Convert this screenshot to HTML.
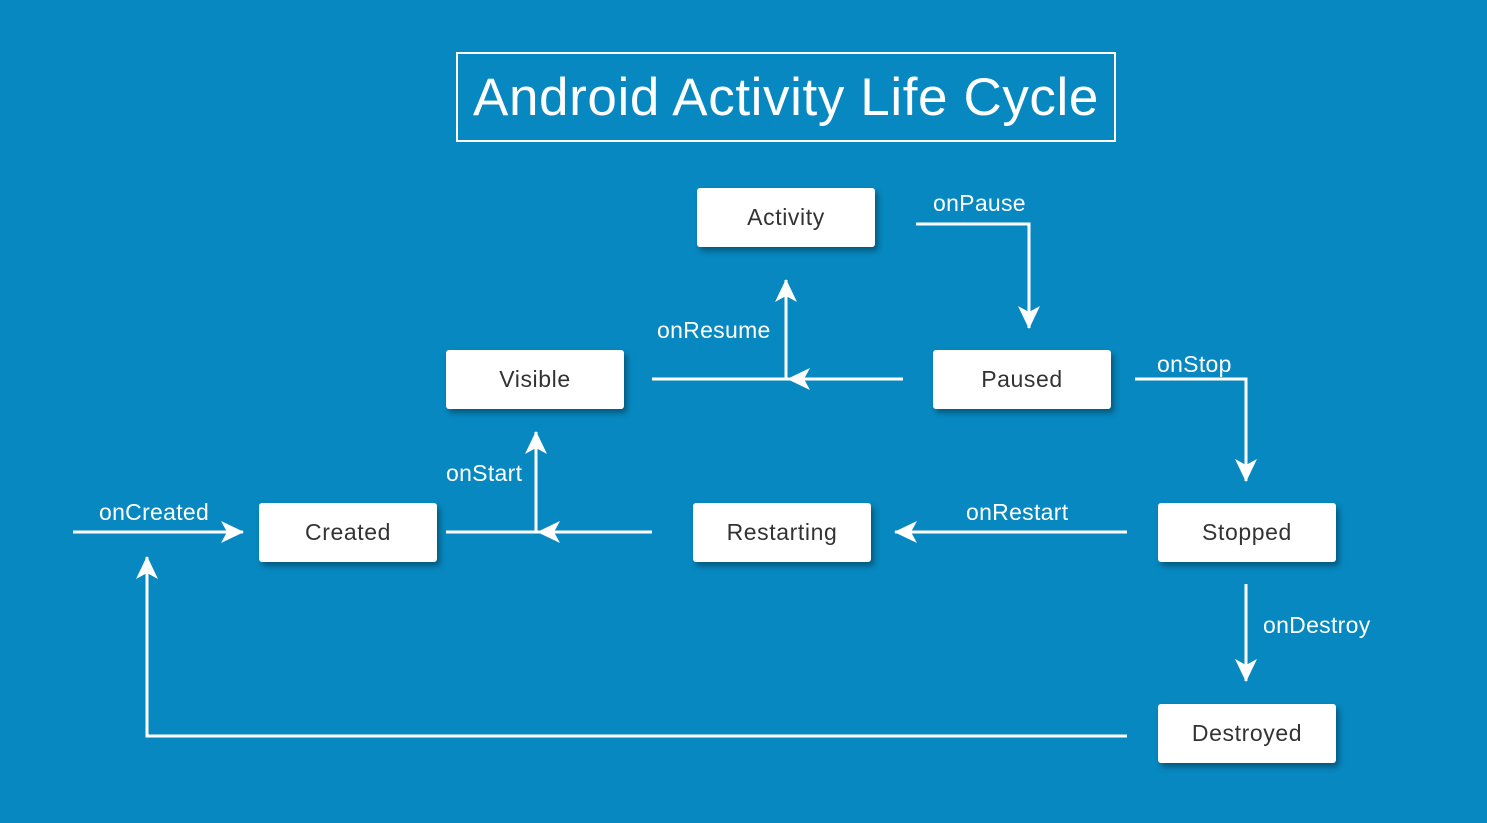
<!DOCTYPE html>
<html><head><meta charset="utf-8"><style>
html,body{margin:0;padding:0;}
body{width:1487px;height:823px;background:#0788c0;position:relative;overflow:hidden;font-family:"Liberation Sans",sans-serif;}
.title{position:absolute;left:456px;top:52px;width:656px;height:86px;border:2px solid #fff;color:#fff;font-size:53px;letter-spacing:0.6px;text-align:center;line-height:88px;}
.box{position:absolute;width:178px;height:59px;background:#fff;border-radius:3px;box-shadow:3px 4px 6px rgba(0,0,0,0.35);color:#333;font-size:23px;letter-spacing:0.6px;text-align:center;line-height:58px;}
.lbl{position:absolute;color:#fff;font-size:23px;letter-spacing:0.3px;white-space:nowrap;}
svg{position:absolute;left:0;top:0;}
</style></head><body>
<div class="title">Android Activity Life Cycle</div>
<svg width="1487" height="823" viewBox="0 0 1487 823">
<defs>
<marker id="a" viewBox="0 0 24 24" refX="22" refY="12" markerWidth="24" markerHeight="24" markerUnits="userSpaceOnUse" orient="auto">
<path d="M0,1 L23,12 L0,23 L6,12 Z" fill="#fff"/>
</marker>
</defs>
<g stroke="#fff" stroke-width="3" fill="none">
<polyline points="916,224 1029,224 1029,328" marker-end="url(#a)"/>
<line x1="652" y1="379" x2="903" y2="379"/>
<line x1="840" y1="379" x2="788" y2="379" marker-end="url(#a)"/>
<line x1="786" y1="379" x2="786" y2="280" marker-end="url(#a)"/>
<polyline points="1135,379 1246,379 1246,481" marker-end="url(#a)"/>
<line x1="1127" y1="532" x2="895" y2="532" marker-end="url(#a)"/>
<line x1="446" y1="532" x2="652" y2="532"/>
<line x1="600" y1="532" x2="538" y2="532" marker-end="url(#a)"/>
<line x1="536" y1="532" x2="536" y2="432" marker-end="url(#a)"/>
<line x1="73" y1="532" x2="243" y2="532" marker-end="url(#a)"/>
<polyline points="1127,736 147,736 147,557" marker-end="url(#a)"/>
<line x1="1246" y1="584" x2="1246" y2="681" marker-end="url(#a)"/>
</g>
</svg>
<div class="box" style="left:697px;top:188px">Activity</div>
<div class="box" style="left:446px;top:350px">Visible</div>
<div class="box" style="left:933px;top:350px">Paused</div>
<div class="box" style="left:259px;top:503px">Created</div>
<div class="box" style="left:693px;top:503px">Restarting</div>
<div class="box" style="left:1158px;top:503px">Stopped</div>
<div class="box" style="left:1158px;top:704px">Destroyed</div>
<div class="lbl" style="left:933px;top:190px">onPause</div>
<div class="lbl" style="left:657px;top:317px">onResume</div>
<div class="lbl" style="left:1157px;top:351px">onStop</div>
<div class="lbl" style="left:446px;top:460px">onStart</div>
<div class="lbl" style="left:99px;top:499px">onCreated</div>
<div class="lbl" style="left:966px;top:499px">onRestart</div>
<div class="lbl" style="left:1263px;top:612px">onDestroy</div>
</body></html>
